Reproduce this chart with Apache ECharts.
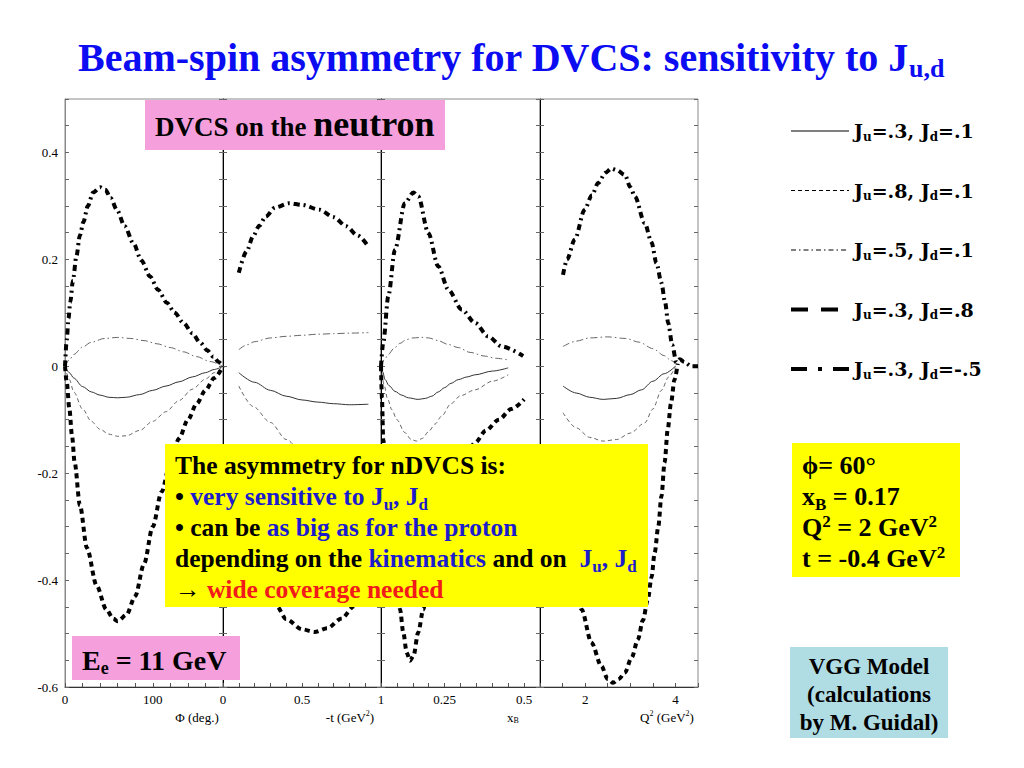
<!DOCTYPE html>
<html><head><meta charset="utf-8">
<script src="https://cdn.jsdelivr.net/npm/echarts@6/dist/echarts.min.js"></script>
<style>html,body{margin:0;padding:0;background:#fff}#c{width:1024px;height:768px}</style>
</head><body><div id="c"></div>
<script>
// ---------------- data ----------------
const seriesNames = ['Ju=.3, Jd=.1','Ju=.8, Jd=.1','Ju=.5, Jd=.1','Ju=.3, Jd=.8','Ju=.3, Jd=-.5'];
const juLabels = ['.3','.8','.5','.3','.3'];
const jdLabels = ['.1','.1','.1','.8','-.5'];

const yTicks = [-0.6,-0.4,-0.2,0,0.2,0.4];
const phiTicks = [0,100];
const tTicks = [0,0.5,1];
const xbTicks = [0.25,0.5];
const q2Ticks = [2,4];

// panel 1 : Phi (deg.)
const phiJ31 = [[0,0],[5,-0.012],[10,-0.022],[20,-0.038],[30,-0.048],[40,-0.054],[50,-0.058],[60,-0.059],[70,-0.058],[85,-0.053],[100,-0.045],[115,-0.037],[130,-0.029],[145,-0.02],[160,-0.012],[170,-0.006],[180,0]];
const phiJ81 = [[0,0],[5,-0.025],[10,-0.048],[20,-0.08],[30,-0.103],[40,-0.118],[50,-0.127],[60,-0.131],[70,-0.13],[85,-0.12],[100,-0.103],[115,-0.085],[130,-0.064],[145,-0.043],[160,-0.024],[170,-0.012],[180,0]];
const phiJ51 = [[0,0],[5,0.012],[10,0.022],[20,0.036],[30,0.045],[45,0.052],[60,0.054],[75,0.052],[90,0.048],[105,0.042],[120,0.035],[135,0.027],[150,0.018],[165,0.009],[180,0]];
const phiJ38 = [[0,0],[2,-0.03],[5,-0.08],[8,-0.13],[11,-0.18],[17,-0.26],[25,-0.34],[36,-0.41],[47,-0.455],[55,-0.472],[60,-0.477],[70,-0.465],[80,-0.43],[90,-0.37],[100,-0.3],[110,-0.235],[120,-0.18],[130,-0.135],[140,-0.1],[150,-0.07],[160,-0.045],[170,-0.022],[180,0]];
const phiJ3m5 = [[0,0],[2,0.05],[4,0.09],[6,0.12],[9,0.16],[13,0.206],[17,0.245],[21,0.27],[26,0.3],[32,0.325],[40,0.335],[46,0.33],[52,0.315],[59,0.293],[68,0.262],[78,0.23],[87,0.198],[97,0.168],[106,0.143],[116,0.119],[125,0.1],[135,0.081],[145,0.062],[154,0.044],[162,0.03],[169,0.018],[175,0.008],[180,0]];

// panel 2 : -t (GeV^2)
const tJ31 = [[0.1,-0.012],[0.2,-0.03],[0.3,-0.045],[0.4,-0.056],[0.5,-0.063],[0.6,-0.067],[0.7,-0.07],[0.8,-0.072],[0.92,-0.071]];
const tJ81 = [[0.1,-0.037],[0.19,-0.075],[0.3,-0.105],[0.4,-0.137],[0.5,-0.16],[0.6,-0.18],[0.7,-0.2],[0.8,-0.215],[0.92,-0.23]];
const tJ51 = [[0.1,0.031],[0.15,0.04],[0.2,0.046],[0.3,0.053],[0.4,0.056],[0.5,0.058],[0.6,0.06],[0.7,0.061],[0.8,0.062],[0.92,0.063]];
const tJ38 = [[0.1,-0.25],[0.2,-0.35],[0.3,-0.43],[0.34,-0.449],[0.4,-0.473],[0.5,-0.492],[0.58,-0.497],[0.66,-0.49],[0.75,-0.472],[0.83,-0.449],[0.92,-0.415]];
const tJ3m5 = [[0.1,0.175],[0.15,0.215],[0.19,0.243],[0.23,0.263],[0.27,0.28],[0.33,0.297],[0.42,0.305],[0.5,0.302],[0.61,0.293],[0.7,0.279],[0.78,0.262],[0.85,0.245],[0.92,0.224]];

// panel 3 : x_B
const xbJ31 = [[0.05,0],[0.055,-0.01],[0.063,-0.025],[0.075,-0.036],[0.094,-0.047],[0.115,-0.054],[0.136,-0.059],[0.167,-0.062],[0.19,-0.06],[0.21,-0.056],[0.23,-0.048],[0.25,-0.04],[0.27,-0.032],[0.293,-0.025],[0.32,-0.02],[0.346,-0.016],[0.4,-0.009],[0.45,-0.003]];
const xbJ81 = [[0.05,0],[0.06,-0.035],[0.07,-0.06],[0.084,-0.081],[0.1,-0.1],[0.125,-0.124],[0.145,-0.137],[0.162,-0.14],[0.18,-0.135],[0.2,-0.122],[0.22,-0.108],[0.241,-0.093],[0.27,-0.07],[0.3,-0.055],[0.346,-0.044],[0.4,-0.028],[0.45,-0.016]];
const xbJ51 = [[0.05,0],[0.06,0.012],[0.073,0.022],[0.09,0.033],[0.11,0.043],[0.13,0.05],[0.15,0.053],[0.178,0.054],[0.2,0.053],[0.23,0.048],[0.26,0.041],[0.293,0.035],[0.33,0.026],[0.377,0.019],[0.41,0.015],[0.45,0.012]];
const xbJ38 = [[0.05,0],[0.053,-0.06],[0.057,-0.137],[0.07,-0.24],[0.085,-0.33],[0.1,-0.41],[0.11,-0.455],[0.12,-0.498],[0.131,-0.536],[0.141,-0.551],[0.152,-0.542],[0.167,-0.498],[0.183,-0.455],[0.2,-0.39],[0.22,-0.33],[0.25,-0.265],[0.28,-0.215],[0.31,-0.178],[0.346,-0.143],[0.38,-0.12],[0.42,-0.1],[0.46,-0.08],[0.5,-0.062]];
const xbJ3m5 = [[0.05,0],[0.057,0.044],[0.073,0.131],[0.094,0.218],[0.125,0.305],[0.152,0.325],[0.167,0.318],[0.199,0.249],[0.23,0.187],[0.262,0.143],[0.304,0.106],[0.346,0.081],[0.387,0.056],[0.43,0.037],[0.497,0.019]];

// panel 4 : Q^2 (GeV^2)
const q2J31 = [[1.51,-0.037],[1.8,-0.05],[2.1,-0.058],[2.4,-0.062],[2.7,-0.06],[3.0,-0.053],[3.25,-0.044],[3.5,-0.028],[3.75,-0.014],[4.0,0]];
const q2J81 = [[1.51,-0.087],[1.8,-0.115],[2.1,-0.133],[2.4,-0.14],[2.7,-0.137],[3.0,-0.125],[3.32,-0.106],[3.5,-0.08],[3.69,-0.045],[3.85,-0.02],[4.0,0]];
const q2J51 = [[1.51,0.037],[1.8,0.047],[2.1,0.053],[2.5,0.055],[2.9,0.052],[3.2,0.045],[3.5,0.033],[3.75,0.02],[3.9,0.011],[4.0,0.005]];
const q2J38 = [[1.51,-0.22],[1.7,-0.34],[1.92,-0.455],[2.14,-0.517],[2.36,-0.561],[2.5,-0.585],[2.62,-0.592],[2.75,-0.585],[2.88,-0.573],[3.03,-0.545],[3.17,-0.511],[3.28,-0.475],[3.39,-0.436],[3.47,-0.395],[3.54,-0.349],[3.62,-0.3],[3.69,-0.243],[3.76,-0.18],[3.83,-0.118],[3.9,-0.07],[3.98,-0.025],[4.05,0.005]];
const q2J3m5 = [[1.51,0.171],[1.6,0.2],[1.77,0.237],[1.99,0.293],[2.15,0.32],[2.29,0.343],[2.45,0.362],[2.58,0.37],[2.7,0.367],[2.88,0.358],[3.0,0.335],[3.1,0.318],[3.32,0.268],[3.47,0.232],[3.58,0.193],[3.69,0.156],[3.77,0.12],[3.84,0.081],[3.93,0.04],[4.02,0.007],[4.1,0.013],[4.2,0.008],[4.35,0],[4.5,0]];

// ---------------- chart ----------------
const SERIF = 'Liberation Serif';
const BLUE = '#1c1ccc';
const TBLUE = '#0c0cf2';
const RED = '#f21a1a';
const PINK = '#f5a0dc';

function mkRich(F, L, fam, weight) {
  const f = Math.round(F * 0.65);
  const ps = Math.max(0, L / 2 - 0.026 * F);
  const pp = Math.max(0, L / 2 - 0.566 * F);
  const base = {fontFamily: fam, fontWeight: weight || 'bold'};
  const main = c => Object.assign({}, base, {fontSize: F, lineHeight: L, color: c, fill: c});
  const sub = c => Object.assign({}, base, {fontSize: f, lineHeight: f, color: c, fill: c, verticalAlign: 'top', padding: [ps, 0, 0, 0]});
  const sup = c => Object.assign({}, base, {fontSize: f, lineHeight: f, color: c, fill: c, verticalAlign: 'top', padding: [pp, 0, 0, 0]});
  return {n: main('#000'), b: main(BLUE), r: main(RED), t: main(TBLUE),
          s: sub('#000'), bs: sub(BLUE), ts: sub(TBLUE), p: sup('#000')};
}

const panelData = [
  [phiJ31, phiJ81, phiJ51, phiJ38, phiJ3m5],
  [tJ31, tJ81, tJ51, tJ38, tJ3m5],
  [xbJ31, xbJ81, xbJ51, xbJ38, xbJ3m5],
  [q2J31, q2J81, q2J51, q2J38, q2J3m5]
];
const panelTicks = [phiTicks, tTicks, xbTicks, q2Ticks];
const panelRange = [[0,180,20],[0,1,0.1],[0.05,0.55,0.05],[1,4.5,0.5]];
const gridLeft = [65, 223, 381, 540];
const gridWidth = [158, 158, 159, 158];

const lineStyles = [
  {color: '#333', width: 1, type: 'solid'},
  {color: '#555', width: 0.9, type: [4, 3]},
  {color: '#555', width: 0.9, type: [7, 3, 1.5, 3]},
  {color: '#000', width: 4, type: [5, 4]},
  {color: '#000', width: 4, type: [6, 4, 2, 4]}
];
const legendDash = ['solid', [4, 3], [5, 3, 1.5, 3], [17, 13], [16, 11, 4, 11]];
const legendWidth = [1.2, 1, 1, 4, 4];

function fmt(list) {
  return function (v) {
    const m = list.find(t => Math.abs(t - v) < 1e-6);
    return m === undefined ? '' : String(m);
  };
}

const grids = [], xAxes = [], yAxes = [], series = [];
for (let p = 0; p < 4; p++) {
  grids.push({left: gridLeft[p], top: 99, width: gridWidth[p], height: 588, show: true, borderColor: '#8a8a8a', borderWidth: 1, containLabel: false});
  xAxes.push({
    type: 'value', gridIndex: p, min: panelRange[p][0], max: panelRange[p][1], interval: panelRange[p][2],
    axisLine: {show: true, onZero: false, lineStyle: {color: '#333', width: 1}},
    axisTick: {show: true, inside: true, length: 4, lineStyle: {color: '#555'}},
    axisLabel: {show: true, formatter: fmt(panelTicks[p]), fontFamily: SERIF, fontSize: 13, color: '#000', margin: 6, showMinLabel: true, showMaxLabel: true, hideOverlap: false},
    splitLine: {show: false}
  });
}
for (let p = 0; p < 4; p++) {
  yAxes.push({
    type: 'value', gridIndex: p, min: -0.6, max: 0.5, interval: 0.05, position: 'left',
    axisLine: {show: true, onZero: false, lineStyle: {color: p === 0 ? '#8a8a8a' : '#000', width: 1}},
    axisTick: {show: true, inside: true, length: 4, lineStyle: {color: '#666'}},
    axisLabel: {show: p === 0, formatter: fmt(yTicks), fontFamily: SERIF, fontSize: 13, color: '#000', margin: 7},
    splitLine: {show: false}
  });
}
for (let p = 0; p < 4; p++) {
  yAxes.push({
    type: 'value', gridIndex: p, min: -0.6, max: 0.5, interval: 0.05, position: 'right',
    axisLine: {show: false, onZero: false},
    axisTick: {show: true, inside: true, length: 4, lineStyle: {color: '#666'}},
    axisLabel: {show: false},
    splitLine: {show: false}
  });
}
panelData.forEach((arr, p) => arr.forEach((d, s) => {
  series.push({
    name: seriesNames[s], type: 'line', xAxisIndex: p, yAxisIndex: p, data: d,
    symbol: 'none', showSymbol: false, smooth: 0.3, smoothMonotone: 'x', silent: true,
    lineStyle: {color: lineStyles[s].color, width: lineStyles[s].width, type: lineStyles[s].type, cap: 'butt'},
    itemStyle: {color: lineStyles[s].color}, z: 3
  });
}));

const legendRich = mkRich(19, 24, 'DejaVu Serif');

const rTitle = mkRich(40, 44, SERIF);
const rBox = mkRich(25.5, 31, SERIF);
const rEe = mkRich(28, 32, SERIF);
const rKin = mkRich(26, 31, SERIF);
const rVgg = mkRich(23, 28, SERIF);
const rAx = mkRich(13, 16, SERIF, 'normal');

function txt(x, y, text, rich, align, z) {
  return {type: 'text', x: x, y: y, z: z || 20,
    style: {text: text, rich: rich, align: align || 'left', verticalAlign: 'top', textAlign: align || 'left', textVerticalAlign: 'top'}};
}
function box(x, y, w, h, fill) {
  return {type: 'rect', z: 15, shape: {x: x, y: y, width: w, height: h}, style: {fill: fill}};
}

const graphics = [
  txt(78, 35, '{t|Beam-spin asymmetry for DVCS: sensitivity to J}{ts|u,d}', rTitle),
  box(145, 100, 300, 50, PINK),
  {type: 'text', x: 155, y: 106, z: 20, style: {
    text: '{a|DVCS on the }{c|neutron}', align: 'left', verticalAlign: 'top', textAlign: 'left', textVerticalAlign: 'top',
    rich: {a: {fontFamily: SERIF, fontWeight: 'bold', fontSize: 27, lineHeight: 36, verticalAlign: 'top', padding: [7, 0, 0, 0], fill: '#000', color: '#000'},
           c: {fontFamily: SERIF, fontWeight: 'bold', fontSize: 36, lineHeight: 36, verticalAlign: 'top', padding: [0, 0, 0, 0], fill: '#000', color: '#000'}}}},
  box(165, 444, 483, 163, '#ffff00'),
  txt(175, 450,
    '{n|The asymmetry for nDVCS is:}\n' +
    '{n|• }{b|very sensitive to J}{bs|u}{b|, J}{bs|d}\n' +
    '{n|• can be }{b|as big as for the proton}\n' +
    '{n|depending on the }{b|kinematics}{n| and on  }{b|J}{bs|u}{b|, J}{bs|d}\n' +
    '{n|→ }{r|wide coverage needed}', rBox),
  box(72, 636, 168, 44, PINK),
  txt(82, 644, '{n|E}{s|e}{n| = 11 GeV}', rEe),
  box(792, 443, 168, 134, '#ffff00'),
  txt(802, 450, '{n|ϕ= 60°}\n{n|x}{s|B}{n| = 0.17}\n{n|Q}{p|2}{n| = 2 GeV}{p|2}\n{n|t = -0.4 GeV}{p|2}', rKin),
  box(790, 647, 158, 91, '#b0dce4'),
  txt(869, 652, '{n|VGG Model}\n{n|(calculations}\n{n|by M. Guidal)}', rVgg, 'center'),
  txt(197, 709, '{n|Φ (deg.)}', rAx, 'center'),
  txt(350, 709, '{n|-t (GeV}{p|2}{n|)}', rAx, 'center'),
  txt(513, 709, '{n|x}{s|B}', rAx, 'center'),
  txt(667, 709, '{n|Q}{p|2}{n| (GeV}{p|2}{n|)}', rAx, 'center')
];

const chart = echarts.init(document.getElementById('c'), null, {renderer: 'svg', width: 1024, height: 768});
chart.setOption({
  animation: false,
  backgroundColor: '#fff',
  grid: grids,
  xAxis: xAxes,
  yAxis: yAxes,
  legend: {
    orient: 'vertical', left: 784, top: 114, itemWidth: 58, itemHeight: 14, itemGap: 36,
    selectedMode: false, itemStyle: {opacity: 0},
    data: seriesNames.map((n, i) => ({name: n, itemStyle: {opacity: 0}, lineStyle: {width: legendWidth[i], type: legendDash[i], color: '#000', cap: 'butt', opacity: 1}})),
    formatter: function (name) {
      const i = seriesNames.indexOf(name);
      return '{n|J}{s|u}{n|=' + juLabels[i] + ', J}{s|d}{n|=' + jdLabels[i] + '}';
    },
    textStyle: {rich: legendRich}
  },
  series: series,
  graphic: graphics
});
</script></body></html>
